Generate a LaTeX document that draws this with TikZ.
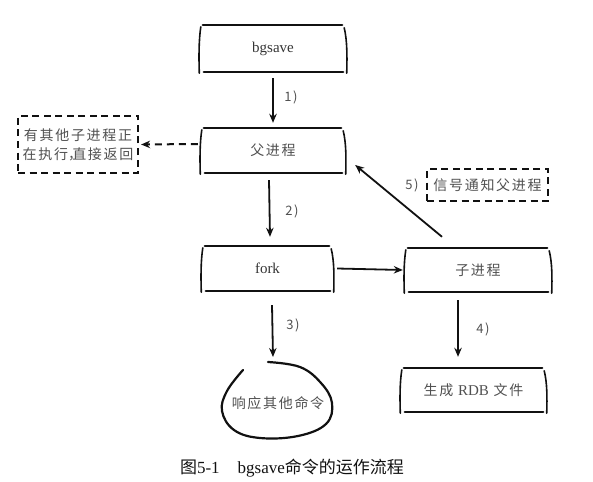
\documentclass[tikz,border=0pt]{standalone}
\usepackage{fontspec}
\setmainfont{Liberation Serif}
\newfontfamily\hand[LetterSpace=12]{Noto Sans CJK SC}
\newfontfamily\cjk{Noto Sans CJK SC}
\usetikzlibrary{arrows.meta}
\definecolor{ink}{HTML}{111111}
\definecolor{pencil}{HTML}{505050}
\tikzset{
  hbox/.style={inner sep=0pt, font=\fontsize{15}{18}\selectfont, text=ink!85},
  handtext/.style={font=\hand\fontsize{14}{19}\selectfont, text=pencil},
  arr/.style={draw=ink, line width=1.8pt, -{Stealth[length=9pt,width=7.5pt]}},
  lbl/.style={font=\hand\fontsize{13}{15}\selectfont, text=pencil, inner sep=0pt},
  dbox/.style={draw=ink, line width=2.2pt, dash pattern=on 7pt off 4.5pt},
  edge/.style={draw=ink, line width=2.3pt, line cap=round},
  side/.style={draw=ink, line width=1.6pt, line cap=round},
}
\newcommand\handbox[1]{%
  \draw[edge] ([xshift=3pt]#1.north west) -- ([xshift=-4pt]#1.north east);
  \draw[edge] ([xshift=4pt]#1.south west) -- ([xshift=-3pt]#1.south east);
  \draw[side] ([shift={(1pt,-2pt)}]#1.north west) .. controls ([shift={(-1pt,-15pt)}]#1.north west) and ([shift={(-1pt,15pt)}]#1.south west) .. ([shift={(-0.5pt,-1pt)}]#1.south west);
  \draw[side] ([shift={(-2pt,-3pt)}]#1.north east) .. controls ([shift={(1pt,-15pt)}]#1.north east) and ([shift={(1pt,15pt)}]#1.south east) .. ([shift={(0.5pt,-1pt)}]#1.south east);
}
\begin{document}
\begin{tikzpicture}[x=1pt,y=-1pt]
\useasboundingbox (0,0) rectangle (593,481);
% boxes
\node[hbox, minimum width=146pt, minimum height=47pt] (bgsave) at (273,48.5) {bgsave};
\node[hbox, handtext, minimum width=144pt, minimum height=45pt] (parent) at (273,150.5) {父进程};
\node[hbox, minimum width=131pt, minimum height=45pt] (fork) at (267.5,268.5) {fork};
\node[hbox, handtext, minimum width=146pt, minimum height=44pt] (child) at (478,270) {子进程};
\node[hbox, handtext, minimum width=145pt, minimum height=44pt] (rdb) at (473.5,390) {生成 {\rmfamily\fontsize{15}{18}\selectfont RDB} 文件};
\handbox{bgsave}
\handbox{parent}
\handbox{fork}
\handbox{child}
\handbox{rdb}
% dashed boxes
\node[dbox, handtext, inner sep=0pt, minimum width=120pt, minimum height=57pt, align=center] (busy) at (78,144.5) {有其他子进程正\\在执行\makebox[0.3em][l]{，}直接返回};
\node[dbox, handtext, inner sep=0pt, minimum width=121pt, minimum height=32pt] (signal) at (487.5,185) {信号通知父进程};
% blob
\node[handtext, inner sep=0pt] (resp) at (278,403) {响应其他命令};
\draw[ink, line width=2.2pt, line cap=round] plot[smooth, tension=0.65] coordinates {(268,362) (300,367) (321,383) (332,403) (326,424) (298,436) (260,438) (234,430) (222,411) (227,391) (243,370)};
% arrows
\draw[arr] ([yshift=-6pt]bgsave.south) -- ([yshift=5pt]parent.north);
\draw[arr] ([shift={(-4pt,-7pt)}]parent.south) -- ([shift={(2.5pt,9pt)}]fork.north);
\draw[arr] ([xshift=4pt]fork.east) -- ([xshift=-2pt]child.west);
\draw[arr] ([shift={(4.5pt,-14pt)}]fork.south) -- ([shift={(-5pt,46pt)}]resp.center);
\draw[arr] ([shift={(-20pt,-8pt)}]child.south) -- ([shift={(-15.5pt,11pt)}]rdb.north);
\draw[arr] ([shift={(-36pt,11pt)}]child.north) -- ([shift={(10pt,-14.5pt)}]parent.east);
\draw[arr, line width=2pt, dash pattern=on 7pt off 5pt] ([shift={(-3pt,6.5pt)}]parent.west) -- ([xshift=2pt]busy.east);
% labels
\node[lbl] (l1) at (291,97) {1)};
\node[lbl] (l2) at (292,211) {2)};
\node[lbl] (l3) at (293,325) {3)};
\node[lbl] (l4) at (483,329) {4)};
\node[lbl] (l5) at (412,185) {5)};
% caption
\node[font=\fontsize{17}{20}\selectfont, text=ink, inner sep=0pt] (cap) at (292,468) {{\cjk 图}5-1\hspace{18pt}bgsave{\cjk 命令的运作流程}};
\end{tikzpicture}
\end{document}
